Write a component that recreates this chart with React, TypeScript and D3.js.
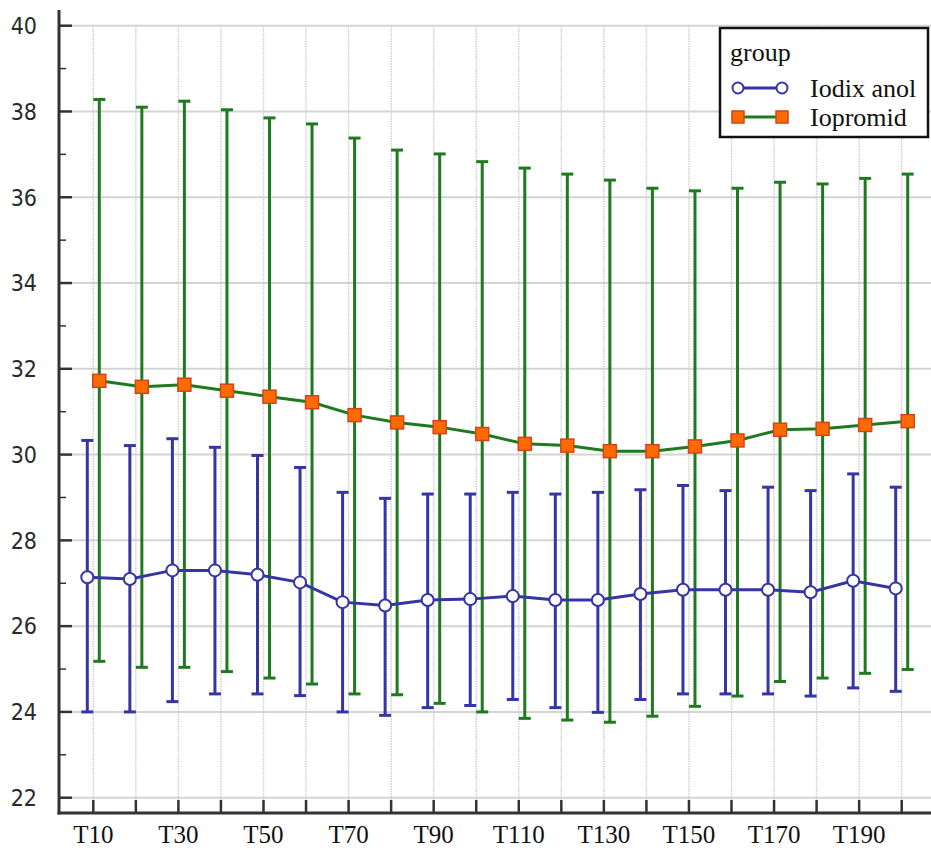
import React, { useEffect, useRef } from 'react';
import * as d3 from 'd3';

const categories = ['T10', 'T20', 'T30', 'T40', 'T50', 'T60', 'T70', 'T80', 'T90', 'T100',
    'T110', 'T120', 'T130', 'T140', 'T150', 'T160', 'T170', 'T180', 'T190', 'T200'];

// Iodixanol: mean, upper and lower error bounds
const iodixanolMean = [27.14, 27.1, 27.3, 27.3, 27.2, 27.02, 26.56, 26.48, 26.61, 26.63,
    26.7, 26.61, 26.61, 26.75, 26.85, 26.85, 26.85, 26.79, 27.06, 26.88];
const iodixanolHigh = [30.33, 30.21, 30.37, 30.17, 29.98, 29.7, 29.12, 28.98, 29.08, 29.08,
    29.12, 29.08, 29.12, 29.18, 29.28, 29.16, 29.24, 29.16, 29.55, 29.24];
const iodixanolLow = [24.0, 24.0, 24.24, 24.42, 24.42, 24.38, 24.0, 23.92, 24.1, 24.15,
    24.29, 24.1, 23.99, 24.29, 24.42, 24.42, 24.42, 24.37, 24.56, 24.48];

// Iopromid
const iopromidMean = [31.72, 31.58, 31.63, 31.49, 31.35, 31.22, 30.92, 30.75, 30.64, 30.48,
    30.25, 30.21, 30.08, 30.08, 30.19, 30.33, 30.58, 30.6, 30.69, 30.78];
const iopromidHigh = [38.28, 38.1, 38.24, 38.04, 37.85, 37.71, 37.38, 37.1, 37.01, 36.83,
    36.68, 36.54, 36.4, 36.21, 36.15, 36.21, 36.35, 36.31, 36.44, 36.54];
const iopromidLow = [25.18, 25.04, 25.04, 24.94, 24.79, 24.65, 24.42, 24.4, 24.2, 24.0,
    23.85, 23.81, 23.76, 23.9, 24.13, 24.37, 24.71, 24.79, 24.9, 24.99];

const yTicks = [22, 24, 26, 28, 30, 32, 34, 36, 38, 40];
const yMinorTicks = [23, 25, 27, 29, 31, 33, 35, 37, 39];
const xTickLabels = ['T10', 'T30', 'T50', 'T70', 'T90', 'T110', 'T130', 'T150', 'T170', 'T190'];
const legendTitle = 'group';
const seriesNames = ['Iodix anol', 'Iopromid'];

const width = 931;
const height = 850;
const BLUE = '#3535a3';
const GREEN = '#1f7a1f';
const ORANGE = '#ff6a00';
const AXIS = '#333';
const SANS = "'DejaVu Sans Condensed', 'DejaVu Sans', sans-serif";
const SERIF = "'Liberation Serif', 'DejaVu Serif', serif";

const App = () => {
    const svgRef = useRef<SVGSVGElement | null>(null);

    useEffect(() => {
        if (!svgRef.current) return;
        const svg = d3.select(svgRef.current);
        svg.selectAll('*').remove();

        const axisX = 59;
        const axisY = 813;

        const x = d3.scalePoint<string>().domain(categories).range([93.3, 901.7]);
        const y = d3.scaleLinear().domain([22, 40]).range([797.7, 25.7]);

        svg.append('rect').attr('width', width).attr('height', height).attr('fill', '#fff');

        // grid
        const grid = svg.append('g');
        grid.selectAll('line.h')
            .data(yTicks)
            .join('line')
            .attr('class', 'h')
            .attr('x1', axisX + 12).attr('x2', width)
            .attr('y1', d => y(d)).attr('y2', d => y(d))
            .attr('stroke', '#d4d4d4').attr('stroke-width', 2);
        grid.selectAll('line.v')
            .data(categories)
            .join('line')
            .attr('class', 'v')
            .attr('x1', d => x(d)!).attr('x2', d => x(d)!)
            .attr('y1', y(40)).attr('y2', axisY)
            .attr('stroke', '#d0d0d0').attr('stroke-width', 1.5)
            .attr('stroke-dasharray', '1.5,1');

        const series = [
            { name: seriesNames[0], mean: iodixanolMean, hi: iodixanolHigh, lo: iodixanolLow, color: BLUE, dx: -6, marker: 'circle' },
            { name: seriesNames[1], mean: iopromidMean, hi: iopromidHigh, lo: iopromidLow, color: GREEN, dx: 6, marker: 'square' },
        ];

        // error bars
        series.forEach(s => {
            const g = svg.append('g').attr('stroke', s.color).attr('stroke-width', 3);
            categories.forEach((c, i) => {
                const cx = x(c)! + s.dx;
                g.append('line').attr('x1', cx).attr('x2', cx).attr('y1', y(s.hi[i])).attr('y2', y(s.lo[i]));
                g.append('line').attr('x1', cx - 6).attr('x2', cx + 6).attr('y1', y(s.hi[i])).attr('y2', y(s.hi[i]));
                g.append('line').attr('x1', cx - 6).attr('x2', cx + 6).attr('y1', y(s.lo[i])).attr('y2', y(s.lo[i]));
            });
        });

        // lines and markers
        series.forEach(s => {
            const line = d3.line<number>()
                .x((d, i) => x(categories[i])! + s.dx)
                .y(d => y(d));
            svg.append('path')
                .attr('d', line(s.mean))
                .attr('fill', 'none')
                .attr('stroke', s.color)
                .attr('stroke-width', 3);
            const m = svg.append('g');
            s.mean.forEach((v, i) => {
                const cx = x(categories[i])! + s.dx;
                if (s.marker === 'circle') {
                    m.append('circle').attr('cx', cx).attr('cy', y(v)).attr('r', 6)
                        .attr('fill', '#fff').attr('stroke', BLUE).attr('stroke-width', 2);
                } else {
                    m.append('rect').attr('x', cx - 6.5).attr('y', y(v) - 6.5).attr('width', 13).attr('height', 13)
                        .attr('fill', ORANGE).attr('stroke', '#d0451b').attr('stroke-width', 1.5);
                }
            });
        });

        // y axis
        const ya = svg.append('g');
        ya.append('line').attr('x1', axisX).attr('x2', axisX).attr('y1', 10).attr('y2', axisY + 1.5)
            .attr('stroke', AXIS).attr('stroke-width', 3);
        ya.selectAll('line.major').data(yTicks).join('line').attr('class', 'major')
            .attr('x1', axisX).attr('x2', axisX + 13).attr('y1', d => y(d)).attr('y2', d => y(d))
            .attr('stroke', AXIS).attr('stroke-width', 2.5);
        ya.selectAll('line.minor').data(yMinorTicks).join('line').attr('class', 'minor')
            .attr('x1', axisX).attr('x2', axisX + 7).attr('y1', d => y(d)).attr('y2', d => y(d))
            .attr('stroke', AXIS).attr('stroke-width', 1.5);
        ya.selectAll('text').data(yTicks).join('text')
            .attr('x', 37).attr('y', d => y(d)).attr('dy', '0.36em')
            .attr('text-anchor', 'end')
            .style('font-family', SANS).style('font-stretch', 'condensed').style('font-size', '23px')
            .attr('fill', '#2a2a2a')
            .text(d => d);

        // x axis
        const xa = svg.append('g');
        xa.append('line').attr('x1', axisX - 1.5).attr('x2', width).attr('y1', axisY).attr('y2', axisY)
            .attr('stroke', AXIS).attr('stroke-width', 3);
        xa.selectAll('line.tick').data(categories).join('line').attr('class', 'tick')
            .attr('x1', d => x(d)!).attr('x2', d => x(d)!).attr('y1', axisY).attr('y2', axisY - 13)
            .attr('stroke', AXIS).attr('stroke-width', 2.5);
        xa.selectAll('text').data(xTickLabels).join('text')
            .attr('x', d => x(d)!).attr('y', 843)
            .attr('text-anchor', 'middle')
            .style('font-family', SERIF).style('font-size', '25px')
            .attr('fill', '#111')
            .text(d => d);

        // legend
        const lg = svg.append('g');
        lg.append('rect').attr('x', 720).attr('y', 28).attr('width', 208).attr('height', 109)
            .attr('fill', '#fff').attr('stroke', '#111').attr('stroke-width', 2.5);
        lg.append('text').attr('x', 730).attr('y', 61)
            .style('font-family', SERIF).style('font-size', '26px').attr('fill', '#111')
            .text(legendTitle);
        series.forEach((s, i) => {
            const cy = 88 + i * 29;
            lg.append('line').attr('x1', 738).attr('x2', 782).attr('y1', cy).attr('y2', cy)
                .attr('stroke', s.color).attr('stroke-width', 3);
            [738, 782].forEach(cx => {
                if (s.marker === 'circle') {
                    lg.append('circle').attr('cx', cx).attr('cy', cy).attr('r', 5.5)
                        .attr('fill', '#fff').attr('stroke', BLUE).attr('stroke-width', 2);
                } else {
                    lg.append('rect').attr('x', cx - 6).attr('y', cy - 6).attr('width', 12).attr('height', 12)
                        .attr('fill', ORANGE).attr('stroke', '#d0451b').attr('stroke-width', 1.5);
                }
            });
            lg.append('text').attr('x', 810).attr('y', cy).attr('dy', '0.33em')
                .style('font-family', SERIF).style('font-size', '26px').attr('fill', '#111')
                .text(s.name);
        });
    }, []);

    return (
        <svg ref={svgRef} width={width} height={height}
            style={{ position: 'absolute', left: 0, top: 0, display: 'block' }}></svg>
    );
};

export default App;
